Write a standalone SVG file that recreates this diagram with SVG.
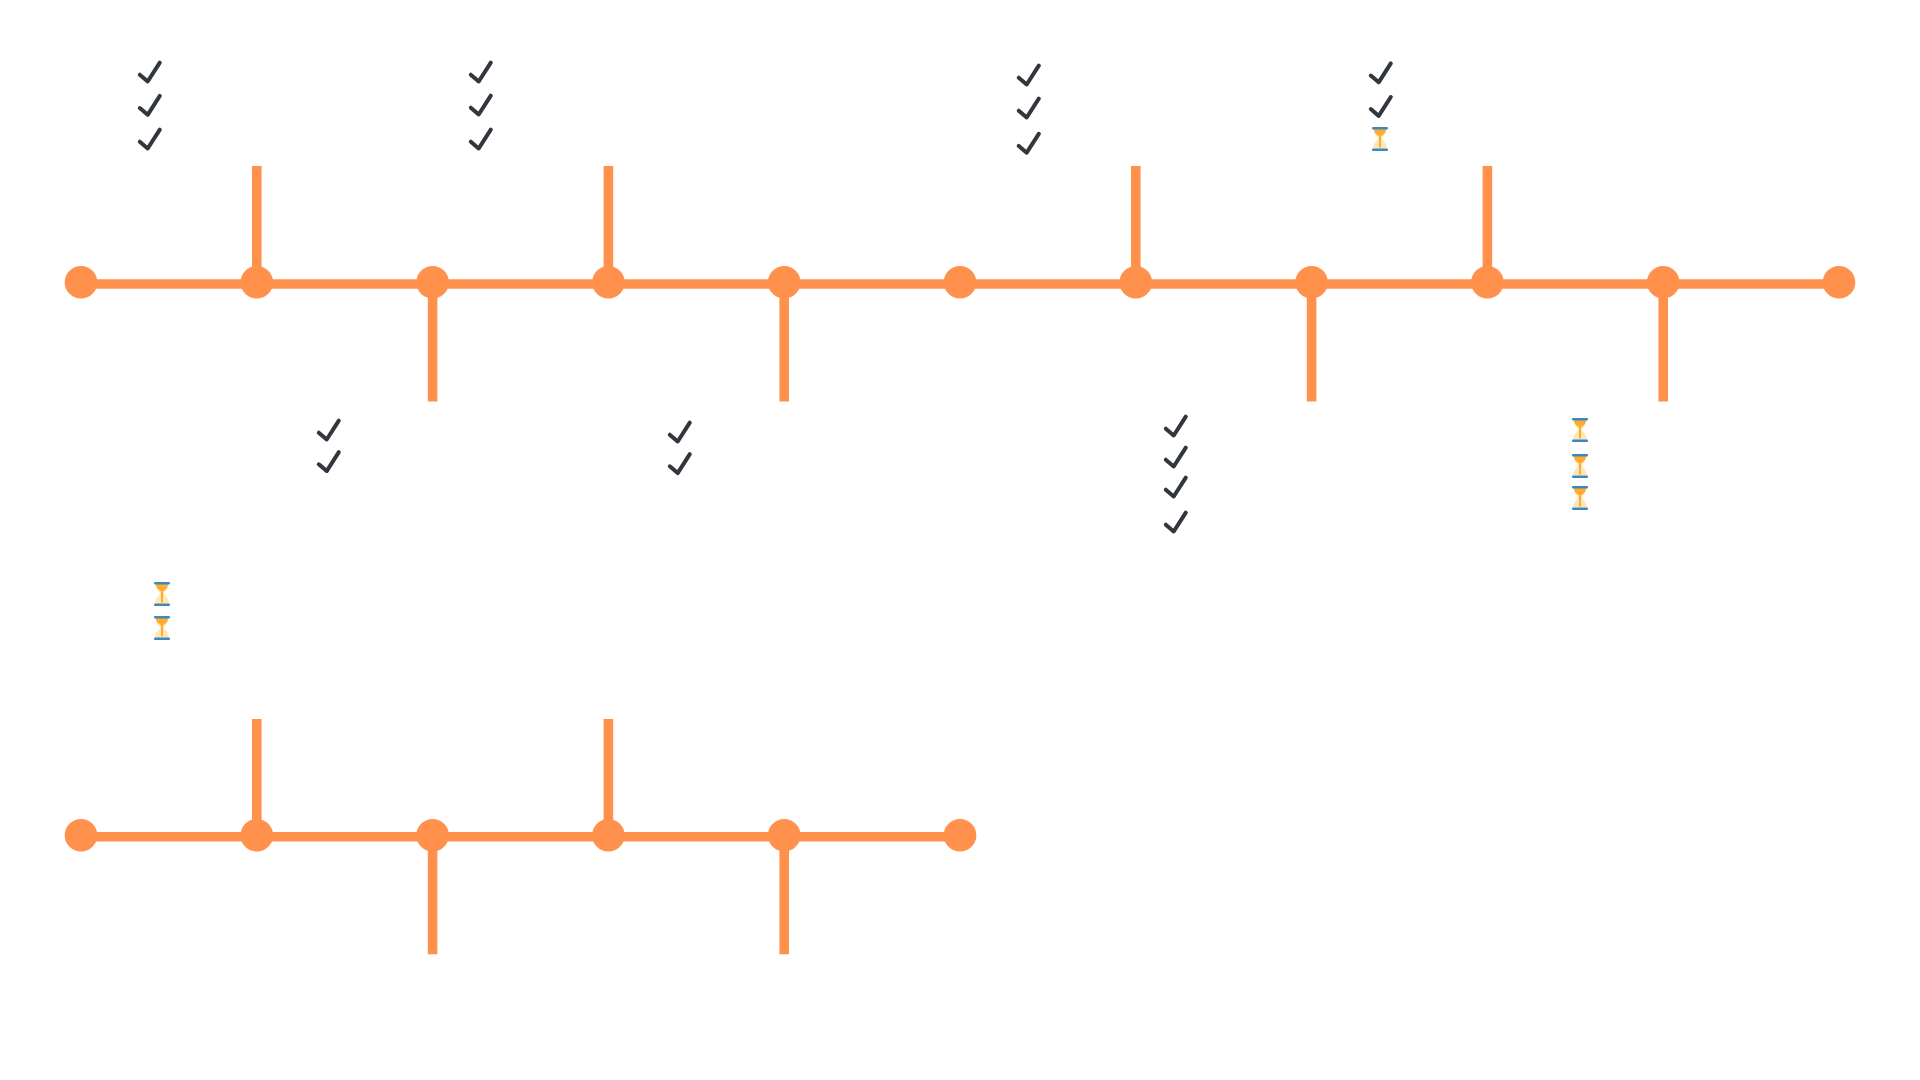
<svg xmlns="http://www.w3.org/2000/svg" width="1920" height="1080" viewBox="0 0 1920 1080">
<style>
.line{stroke:#FF914D;stroke-width:9.6;fill:none}
.node{fill:#FF914D}
.chk{fill:none;stroke:#31373D;stroke-width:4;stroke-linecap:round;stroke-linejoin:round}
</style>
<defs>
<g id="check"><polyline class="chk" points="-10.2,2.5 -2.3,9.3 9.8,-9.6"/></g>
<g id="glass">
<path fill="#FFE8B6" d="M-6.5,-10C-6.5,-4 -2,-2.5 -2,0C-2,1.5 -7,3 -7,10H7C7,3 2,1.5 2,0C2,-2.5 6.5,-4 6.5,-10Z"/>
<path fill="#FFAC33" d="M-6,-10H6C6,-6.5 3.5,-4.2 1,-2.8V8.5H-1V-2.8C-3.5,-4.2 -6,-6.5 -6,-10Z"/>
<rect x="-8" y="-12" width="16" height="2.6" rx="1" fill="#3B88C3"/>
<rect x="-8" y="9.4" width="16" height="2.6" rx="1" fill="#3B88C3"/>
</g>
</defs>
<rect width="1920" height="1080" fill="#FFFFFF"/>
<g id="connectors">
<line class="line" x1="81" y1="284" x2="1839" y2="284"/>
<line class="line" x1="256.8" y1="166" x2="256.8" y2="284"/>
<line class="line" x1="608.4" y1="166" x2="608.4" y2="284"/>
<line class="line" x1="1135.8" y1="166" x2="1135.8" y2="284"/>
<line class="line" x1="1487.4" y1="166" x2="1487.4" y2="284"/>
<line class="line" x1="432.6" y1="284" x2="432.6" y2="401.6"/>
<line class="line" x1="784.2" y1="284" x2="784.2" y2="401.6"/>
<line class="line" x1="1311.6" y1="284" x2="1311.6" y2="401.6"/>
<line class="line" x1="1663.2" y1="284" x2="1663.2" y2="401.6"/>
<line class="line" x1="81" y1="836.8" x2="960" y2="836.8"/>
<line class="line" x1="256.8" y1="719" x2="256.8" y2="836.8"/>
<line class="line" x1="608.4" y1="719" x2="608.4" y2="836.8"/>
<line class="line" x1="432.6" y1="836.8" x2="432.6" y2="954.3"/>
<line class="line" x1="784.2" y1="836.8" x2="784.2" y2="954.3"/>
</g>
<g id="timeline-1">
<g id="n1-0"><circle class="node" cx="81" cy="282.3" r="16.3"/></g>
<g id="n1-1"><circle class="node" cx="256.8" cy="282.3" r="16.3"/></g>
<g id="n1-2"><circle class="node" cx="432.6" cy="282.3" r="16.3"/></g>
<g id="n1-3"><circle class="node" cx="608.4" cy="282.3" r="16.3"/></g>
<g id="n1-4"><circle class="node" cx="784.2" cy="282.3" r="16.3"/></g>
<g id="n1-5"><circle class="node" cx="960" cy="282.3" r="16.3"/></g>
<g id="n1-6"><circle class="node" cx="1135.8" cy="282.3" r="16.3"/></g>
<g id="n1-7"><circle class="node" cx="1311.6" cy="282.3" r="16.3"/></g>
<g id="n1-8"><circle class="node" cx="1487.4" cy="282.3" r="16.3"/></g>
<g id="n1-9"><circle class="node" cx="1663.2" cy="282.3" r="16.3"/></g>
<g id="n1-10"><circle class="node" cx="1839" cy="282.3" r="16.3"/></g>
</g>
<g id="timeline-2">
<g id="n2-0"><circle class="node" cx="81" cy="835.2" r="16.3"/></g>
<g id="n2-1"><circle class="node" cx="256.8" cy="835.2" r="16.3"/></g>
<g id="n2-2"><circle class="node" cx="432.6" cy="835.2" r="16.3"/></g>
<g id="n2-3"><circle class="node" cx="608.4" cy="835.2" r="16.3"/></g>
<g id="n2-4"><circle class="node" cx="784.2" cy="835.2" r="16.3"/></g>
<g id="n2-5"><circle class="node" cx="960" cy="835.2" r="16.3"/></g>
</g>
<g id="status-a">
<use href="#check" x="150" y="72.2"/><use href="#check" x="150" y="105.5"/><use href="#check" x="150" y="139.2"/>
</g>
<g id="status-b">
<use href="#check" x="481" y="72.2"/><use href="#check" x="481" y="105.2"/><use href="#check" x="481" y="139.2"/>
</g>
<g id="status-c">
<use href="#check" x="1029" y="75.2"/><use href="#check" x="1029" y="108.2"/><use href="#check" x="1029" y="143.4"/>
</g>
<g id="status-d">
<use href="#check" x="1381" y="73"/><use href="#check" x="1381" y="106.6"/><use href="#glass" x="1380" y="139"/>
</g>
<g id="status-e">
<use href="#check" x="329" y="430.2"/><use href="#check" x="329" y="461.8"/>
</g>
<g id="status-f">
<use href="#check" x="680" y="432.2"/><use href="#check" x="680" y="463.8"/>
</g>
<g id="status-g">
<use href="#check" x="1176" y="426.2"/><use href="#check" x="1176" y="457.2"/><use href="#check" x="1176" y="487.2"/><use href="#check" x="1176" y="522.2"/>
</g>
<g id="status-h">
<use href="#glass" x="1580" y="430"/><use href="#glass" x="1580" y="466"/><use href="#glass" x="1580" y="498"/>
</g>
<g id="status-i">
<use href="#glass" x="162" y="594"/><use href="#glass" x="162" y="628"/>
</g>
</svg>
